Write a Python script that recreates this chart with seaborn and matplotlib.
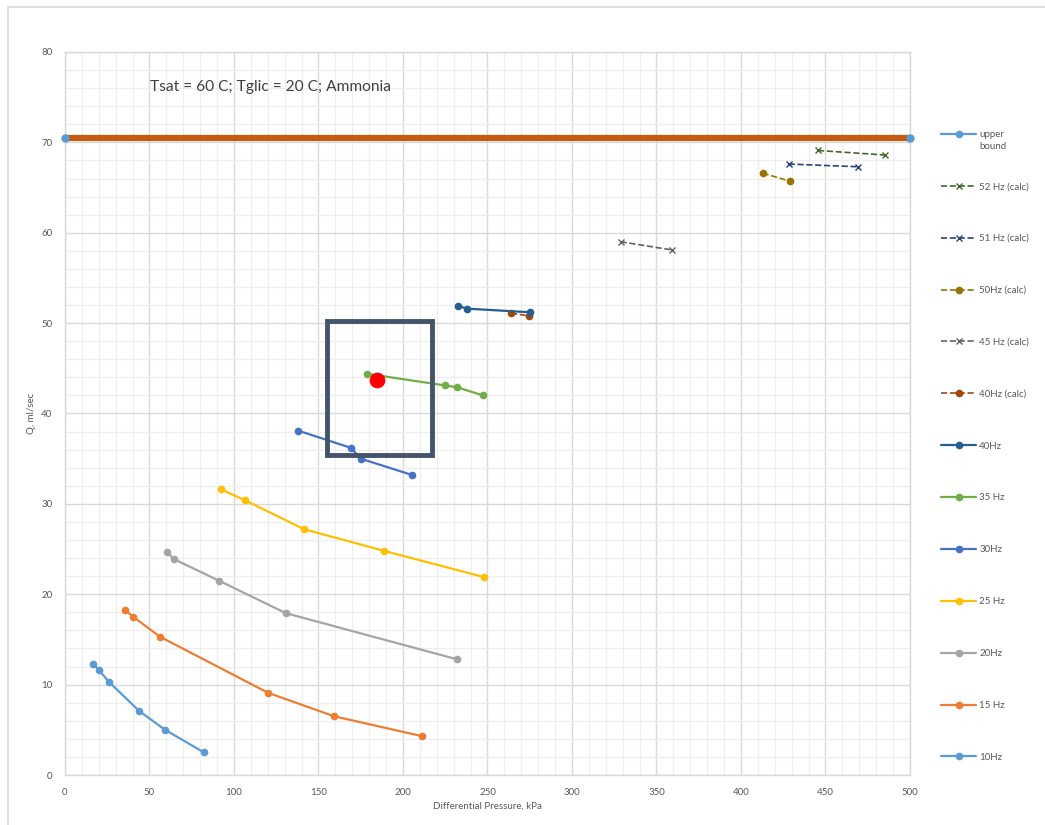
import numpy as np
import pandas as pd
import matplotlib
matplotlib.use("Agg")
import matplotlib.pyplot as plt
import seaborn as sns
from matplotlib.patches import Rectangle

# Dane (Differential Pressure [kPa], Q [ml/sec])
p_10 = [16.6, 20.1, 26.0, 43.8, 59.2, 82.2]
q_10 = [12.3, 11.6, 10.3, 7.1, 5.0, 2.5]

p_15 = [35.3, 40.4, 56.2, 120.1, 159.2, 211.2]
q_15 = [18.3, 17.5, 15.3, 9.1, 6.5, 4.3]

p_20 = [60.2, 64.3, 91.1, 130.8, 232.0]
q_20 = [24.7, 23.9, 21.5, 17.9, 12.8]

p_25 = [92.3, 106.5, 141.4, 188.8, 247.9]
q_25 = [31.6, 30.4, 27.2, 24.8, 21.9]

p_30 = [138.0, 169.2, 175.0, 205.3]
q_30 = [38.1, 36.2, 35.0, 33.2]

p_35 = [178.5, 225.0, 232.1, 247.2]
q_35 = [44.4, 43.1, 42.9, 42.0]

p_40 = [232.5, 238.0, 275.1]
q_40 = [51.9, 51.6, 51.2]

p_40c = [263.9, 274.7]
q_40c = [51.1, 50.8]

p_45c = [328.8, 359.0]
q_45c = [59.0, 58.1]

p_50c = [412.8, 429.0]
q_50c = [66.6, 65.7]

p_51c = [428.2, 469.4]
q_51c = [67.6, 67.3]

p_52c = [445.6, 485.2]
q_52c = [69.1, 68.6]

p_upper = [0, 500]
q_upper = [70.5, 70.5]

p_red = [184.6]
q_red = [43.7]

# zaznaczony obszar (x0, y0, szer, wys)
highlight_box = (155.0, 35.4, 62.2, 14.8)

title_txt = "Tsat = 60 C; Tglic = 20 C; Ammonia"

# nazwa, x, y, kolor, styl, marker
series = [
    ("upper", p_upper, q_upper, "#5B9BD5", "-", "o"),
    ("52 Hz (calc)", p_52c, q_52c, "#43682B", "--", "x"),
    ("51 Hz (calc)", p_51c, q_51c, "#264478", "--", "x"),
    ("50Hz (calc)", p_50c, q_50c, "#997300", "--", "o"),
    ("45 Hz (calc)", p_45c, q_45c, "#636363", "--", "x"),
    ("40Hz (calc)", p_40c, q_40c, "#9E480E", "--", "o"),
    ("40Hz", p_40, q_40, "#255E91", "-", "o"),
    ("35 Hz", p_35, q_35, "#70AD47", "-", "o"),
    ("30Hz", p_30, q_30, "#4472C4", "-", "o"),
    ("25 Hz", p_25, q_25, "#FFC000", "-", "o"),
    ("20Hz", p_20, q_20, "#A5A5A5", "-", "o"),
    ("15 Hz", p_15, q_15, "#ED7D31", "-", "o"),
    ("10Hz", p_10, q_10, "#5B9BD5", "-", "o"),
]

sns.set_style("white")
plt.rcParams["font.family"] = ["Lato", "DejaVu Sans"]

fig = plt.figure(figsize=(10.45, 8.25), dpi=100)
ax = fig.add_axes([0.0622, 0.0606, 0.8086, 0.8764])

# ramka wykresu
fig.patches.append(Rectangle((0.008, -0.1), 1.1, 1.091, transform=fig.transFigure,
                             fill=False, edgecolor="#D9D9D9", linewidth=1.2))

handles = []
for name, xs, ys, col, ls, mk in series:
    ms = 4.5 if mk == "o" else 5
    sns.lineplot(x=xs, y=ys, ax=ax, color=col, linestyle=ls, marker=mk,
                 markersize=ms, linewidth=1.6 if ls == "-" else 1.2,
                 markeredgecolor=col, markeredgewidth=1.0,
                 estimator=None, sort=False, label=name, legend=False)
    handles.append(ax.lines[-1])

# gruba pomarańczowa linia górnej granicy
sns.lineplot(x=p_upper, y=q_upper, ax=ax, color="#C55A11", linewidth=4.5,
             estimator=None, legend=False, zorder=3)
ax.plot(p_upper, q_upper, "o", color="#5B9BD5", markersize=5, zorder=4, clip_on=False)

# czerwony punkt
sns.scatterplot(x=p_red, y=q_red, ax=ax, color="#FF0000", s=110,
                edgecolor="#FF0000", zorder=5, legend=False)

ax.add_patch(Rectangle(highlight_box[:2], highlight_box[2], highlight_box[3],
                       fill=False, edgecolor="#44546A", linewidth=3.5, zorder=6))

ax.set_xlim(0, 500)
ax.set_ylim(0, 80)
ax.set_xticks(np.arange(0, 501, 50))
ax.set_yticks(np.arange(0, 81, 10))
ax.set_xticks(np.arange(0, 501, 10), minor=True)
ax.set_yticks(np.arange(0, 81, 2), minor=True)
ax.grid(which="major", color="#D9D9D9", linewidth=1.0)
ax.grid(which="minor", color="#EEEEEE", linewidth=0.9)
ax.set_axisbelow(True)
ax.tick_params(which="both", length=0, labelsize=7, labelcolor="#595959", pad=9)
for s in ax.spines.values():
    s.set_color("#D9D9D9")
    s.set_linewidth(1.0)

ax.set_xlabel("Differential Pressure, kPa", fontsize=7, color="#595959", labelpad=4)
ax.set_ylabel("Q, ml/sec", fontsize=7, color="#595959", labelpad=4)

ax.text(50.3, 76.1, title_txt, fontsize=11.2, color="#404040", va="center", ha="left")

leg = fig.legend(handles=handles, loc="upper left", bbox_to_anchor=(0.897, 0.8468),
                 frameon=False, fontsize=7, labelcolor="#595959", handlelength=3.6,
                 handletextpad=0.3, labelspacing=4.41, borderaxespad=0)

# druga linia etykiety "upper bound"
fig.canvas.draw()
bb = leg.get_texts()[0].get_window_extent().transformed(fig.transFigure.inverted())
fig.text(bb.x0, bb.y0 - 0.003, "bound", fontsize=7, color="#595959", va="top", ha="left")

fig.savefig("out.png", dpi=100)
